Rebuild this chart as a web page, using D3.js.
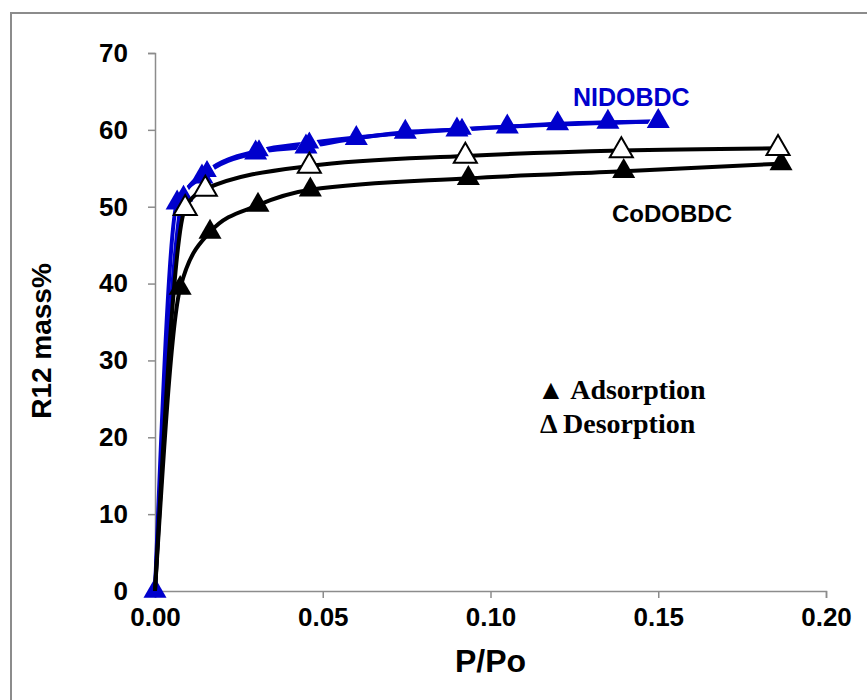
<!DOCTYPE html>
<html>
<head>
<meta charset="utf-8">
<script src="https://cdn.jsdelivr.net/npm/d3@7"></script>
<style>
  body { margin: 0; background: #fff; }
  svg { display: block; }
</style>
</head>
<body>
<svg width="867" height="700"></svg>
<script>
// R12 uptake isotherms, NiDOBDC vs CoDOBDC

const width = 867;
const height = 700;

// data
const niAdsX = [0, 0.0066, 0.014, 0.030, 0.045, 0.060, 0.0746, 0.090, 0.105, 0.120, 0.135, 0.150];
const niAdsY = [0, 50.5, 53.9, 57.0, 57.8, 58.9, 59.7, 60.0, 60.4, 60.8, 61.0, 61.1];
const niDesX = [0, 0.0085, 0.0155, 0.031, 0.046, 0.0915, 0.150];
const niDesY = [0, 51.4, 54.6, 57.3, 58.3, 60.1, 61.1];
const coAdsX = [0, 0.0075, 0.0164, 0.0307, 0.0463, 0.0934, 0.1397, 0.1866];
const coAdsY = [0, 39.4, 46.7, 50.2, 52.2, 53.7, 54.6, 55.6];
const coDesX = [0, 0.009, 0.015, 0.046, 0.0925, 0.139, 0.1857];
const coDesY = [0, 49.8, 52.3, 55.3, 56.6, 57.3, 57.6];
const xTicks = [0, 0.05, 0.10, 0.15, 0.20];
const yTicks = [0, 10, 20, 30, 40, 50, 60, 70];

const zip = (xs, ys) => xs.map((x, i) => [x, ys[i]]);

const svg = d3.select("svg");

// outer frame (runs off the picture on the right and bottom)
svg.append("rect")
  .attr("x", 11).attr("y", 13)
  .attr("width", 900).attr("height", 800)
  .attr("fill", "none")
  .attr("stroke", "#8c8c8c")
  .attr("stroke-width", 2);

const x = d3.scaleLinear().domain([0, 0.2]).range([155, 826]);
const y = d3.scaleLinear().domain([0, 70]).range([591, 53]);

const xAxis = d3.axisBottom(x).tickValues(xTicks).tickFormat(d3.format(".2f")).tickSizeOuter(0).tickSize(7).tickPadding(10);
const yAxis = d3.axisLeft(y).tickValues(yTicks).tickSizeOuter(0).tickSize(7).tickPadding(20);

const gx = svg.append("g").attr("transform", "translate(0," + y(0) + ")").call(xAxis);
const gy = svg.append("g").attr("transform", "translate(" + x(0) + ",0)").call(yAxis);

[gx, gy].forEach((g) => {
  g.select(".domain").attr("stroke", "#8c8c8c").attr("stroke-width", 1.5);
  g.selectAll(".tick line").attr("stroke", "#8c8c8c").attr("stroke-width", 1.5);
  g.selectAll(".tick text")
    .attr("fill", "#000")
    .style("font-family", "'Liberation Sans', Arial, sans-serif")
    .style("font-weight", "bold")
    .style("font-size", "26px");
});

// axis titles
svg.append("text")
  .attr("x", x(0.1)).attr("y", 672)
  .attr("text-anchor", "middle")
  .style("font-family", "'Liberation Sans', Arial, sans-serif")
  .style("font-weight", "bold").style("font-size", "32px")
  .text("P/Po");

svg.append("text")
  .attr("transform", "translate(51," + 341 + ") rotate(-90)")
  .attr("text-anchor", "middle")
  .style("font-family", "'Liberation Sans', Arial, sans-serif")
  .style("font-weight", "bold").style("font-size", "28px")
  .text("R12 mass%");

const line = d3.line()
  .x((d) => x(d[0]))
  .y((d) => y(d[1]))
  .curve(d3.curveMonotoneX);

const tri = d3.symbol().type(d3.symbolTriangle).size(230);

// markers; skipOrigin leaves the shared (0,0) point to the Ni adsorption marker
const drawSeries = (data, fill, stroke, skipOrigin) => {
  svg.selectAll(null)
    .data(skipOrigin ? data.filter((d) => d[0] > 0) : data)
    .enter()
    .append("path")
    .attr("d", tri)
    .attr("transform", (d) => "translate(" + x(d[0]) + "," + y(d[1]) + ")")
    .attr("fill", fill)
    .attr("stroke", stroke)
    .attr("stroke-width", 2);
};

const drawLine = (data, color) => {
  svg.append("path")
    .datum(data)
    .attr("d", line)
    .attr("fill", "none")
    .attr("stroke", color)
    .attr("stroke-width", 4);
};

const blue = "#0000cc";

// Ni first, Co drawn over it
drawLine(zip(niDesX, niDesY), blue);
drawLine(zip(niAdsX, niAdsY), blue);
drawSeries(zip(niDesX, niDesY), blue, "#fff", true);
drawSeries(zip(niAdsX, niAdsY), blue, "none", false);

drawLine(zip(coDesX, coDesY), "#000");
drawLine(zip(coAdsX, coAdsY), "#000");
drawSeries(zip(coAdsX, coAdsY), "#000", "none", true);
drawSeries(zip(coDesX, coDesY), "#fff", "#000", true);

// series labels
svg.append("text")
  .attr("x", 573).attr("y", 106)
  .attr("fill", blue)
  .style("font-family", "'Liberation Sans', Arial, sans-serif")
  .style("font-weight", "bold").style("font-size", "25px")
  .text("NIDOBDC");

svg.append("text")
  .attr("x", 612).attr("y", 222)
  .attr("fill", "#000")
  .style("font-family", "'Liberation Sans', Arial, sans-serif")
  .style("font-weight", "bold").style("font-size", "24px")
  .text("CoDOBDC");

// legend note
svg.append("text")
  .attr("x", 537).attr("y", 399)
  .style("font-family", "'Liberation Serif', 'Times New Roman', serif")
  .style("font-weight", "bold").style("font-size", "28px")
  .text("\u25B2 Adsorption");

svg.append("text")
  .attr("x", 540).attr("y", 433)
  .style("font-family", "'Liberation Serif', 'Times New Roman', serif")
  .style("font-weight", "bold").style("font-size", "28px")
  .text("\u0394 Desorption");
</script>
</body>
</html>
